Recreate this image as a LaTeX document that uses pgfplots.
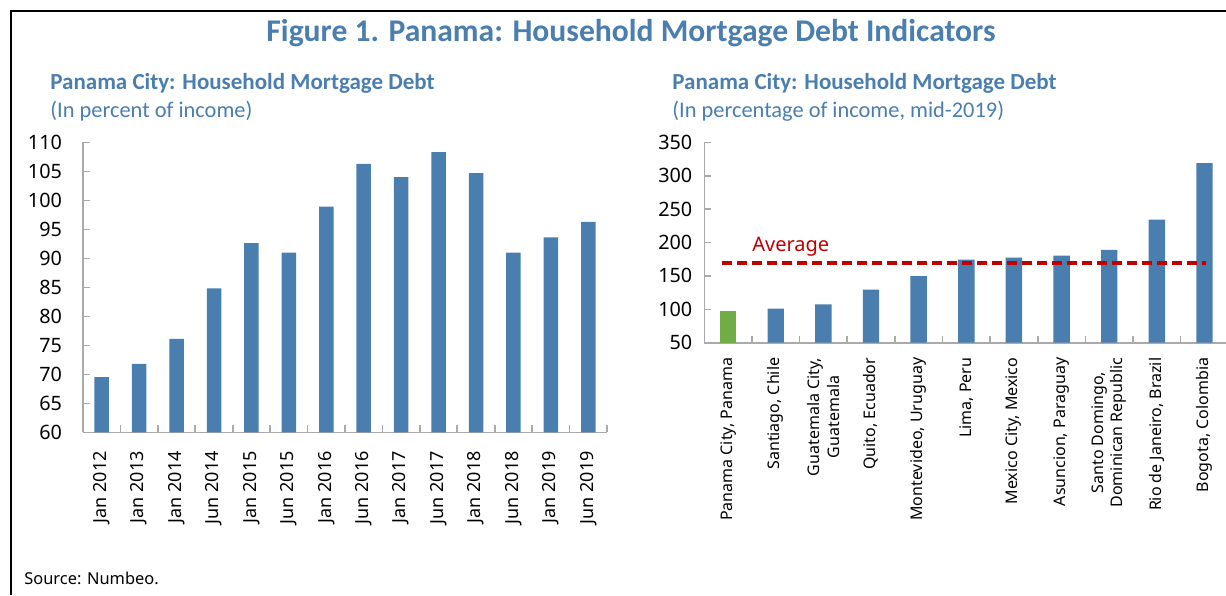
\documentclass[border=0pt]{standalone}
\usepackage{fontspec}
\setmainfont{Carlito}
\newfontfamily\tickfont{Noto Sans}
\usepackage{pgfplots}
\pgfplotsset{compat=1.18}
\definecolor{barblue}{RGB}{74,126,175}
\definecolor{bargreen}{RGB}{112,173,71}
\definecolor{titleblue}{RGB}{74,126,175}
\definecolor{avgred}{RGB}{192,0,0}
\definecolor{axgray}{RGB}{170,170,170}
\pgfplotsset{
  mystyle/.style={
    scale only axis, width=262pt,
    axis x line*=bottom, axis y line*=left,
    axis line style={axgray, line width=0.8pt},
    every tick/.style={axgray, line width=0.8pt},
    tick align=inside,
    major tick length=3.5pt,
    /pgf/number format/assume math mode=true,
    ticklabel style={font=\tickfont\fontsize{9}{10.5}\selectfont, text=black},
    yticklabel style={font=\tickfont\fontsize{9.9}{11}\selectfont},
    enlargelimits=false,
    xticklabels={},
  }
}
\begin{document}
\begin{tikzpicture}
\path[use as bounding box] (0,0) rectangle (613pt,-297.5pt);
\draw[line width=1pt] (5.5pt,-297.5pt) -- (5.5pt,-5.5pt) -- (613pt,-5.5pt);
\node[anchor=center, font=\bfseries\fontsize{15.8}{18}\selectfont, text=titleblue, inner sep=0] at (315.5pt,-16.5pt) {Figure 1. Panama: Household Mortgage Debt Indicators};
\node[anchor=west, font=\bfseries\fontsize{11.5}{13}\selectfont, text=titleblue, inner sep=0] at (25pt,-41.5pt) {Panama City: Household Mortgage Debt};
\node[anchor=west, font=\fontsize{11.2}{13}\selectfont, text=titleblue, inner sep=0] at (25pt,-55.5pt) {(In percent of income)};
\node[anchor=west, font=\bfseries\fontsize{11.5}{13}\selectfont, text=titleblue, inner sep=0] at (336pt,-41.5pt) {Panama City: Household Mortgage Debt};
\node[anchor=west, font=\fontsize{11.2}{13}\selectfont, text=titleblue, inner sep=0] at (336pt,-55.5pt) {(In percentage of income, mid-2019)};
\node[anchor=west, font=\tickfont\fontsize{8.2}{10}\selectfont, inner sep=0] at (12pt,-289pt) {Source: Numbeo.};

\begin{axis}[mystyle, at={(41.5pt,-216.15pt)}, anchor=south west, height=145pt,
  xmin=-0.5, xmax=13.5, ymin=60, ymax=110,
  ytick={60,65,...,110},
  yticklabel style={xshift=-7pt},
  xtick={-0.5,0.5,...,13.5},
  extra x ticks={0,...,13},
  extra x tick labels={Jan 2012,Jan 2013,Jan 2014,Jun 2014,Jan 2015,Jun 2015,Jan 2016,Jun 2016,Jan 2017,Jun 2017,Jan 2018,Jun 2018,Jan 2019,Jun 2019},
  extra x tick style={major tick length=0pt, tick label style={yshift=-6pt, rotate=90, anchor=east}},
]
\addplot[ybar, bar width=7.25pt, fill=barblue, draw=none] coordinates {
(0,69.5) (1,71.8) (2,76.1) (3,84.8) (4,92.6) (5,91.0) (6,98.9) (7,106.3) (8,104.0) (9,108.3) (10,104.7) (11,91.0) (12,93.6) (13,96.3)};
\end{axis}

\begin{axis}[mystyle, at={(352.15pt,-171.35pt)}, anchor=south west, height=100.2pt,
  xmin=-0.5, xmax=10.5, ymin=50, ymax=350,
  ytick={50,100,...,350},
  yticklabel style={xshift=-2.5pt},
  xtick={-0.5,0.5,...,10.5},
  extra x ticks={0,...,10},
  extra x tick labels={{Panama City, Panama},{Santiago, Chile},{Guatemala City,\\Guatemala},{Quito, Ecuador},{Montevideo, Uruguay},{Lima, Peru},{Mexico City, Mexico},{Asuncion, Paraguay},{Santo Domingo,\\Dominican Republic},{Rio de Janeiro, Brazil},{Bogota, Colombia}},
  extra x tick style={major tick length=0pt, tick label style={yshift=-4pt, rotate=90, anchor=east, align=center, font=\tickfont\fontsize{8}{9.6}\selectfont}},
]
\addplot[ybar, bar width=8.2pt, fill=bargreen, draw=none] coordinates {(0,96.8)};
\addplot[ybar, bar width=8.2pt, fill=barblue, draw=none] coordinates {
(1,101.2) (2,107.2) (3,129.6) (4,149.5) (5,174.4) (6,177.4) (7,180.3) (8,188.8) (9,234.1) (10,318.7)};
\addplot[avgred, line width=2pt, dash pattern=on 5pt off 2.5pt] coordinates {(-0.13,169.4) (10.04,169.4)};
\node[anchor=base west, inner sep=0, text=avgred, font=\tickfont\fontsize{10}{12}\selectfont] at (axis cs:0.5,187) {Average};
\end{axis}
\end{tikzpicture}
\end{document}
